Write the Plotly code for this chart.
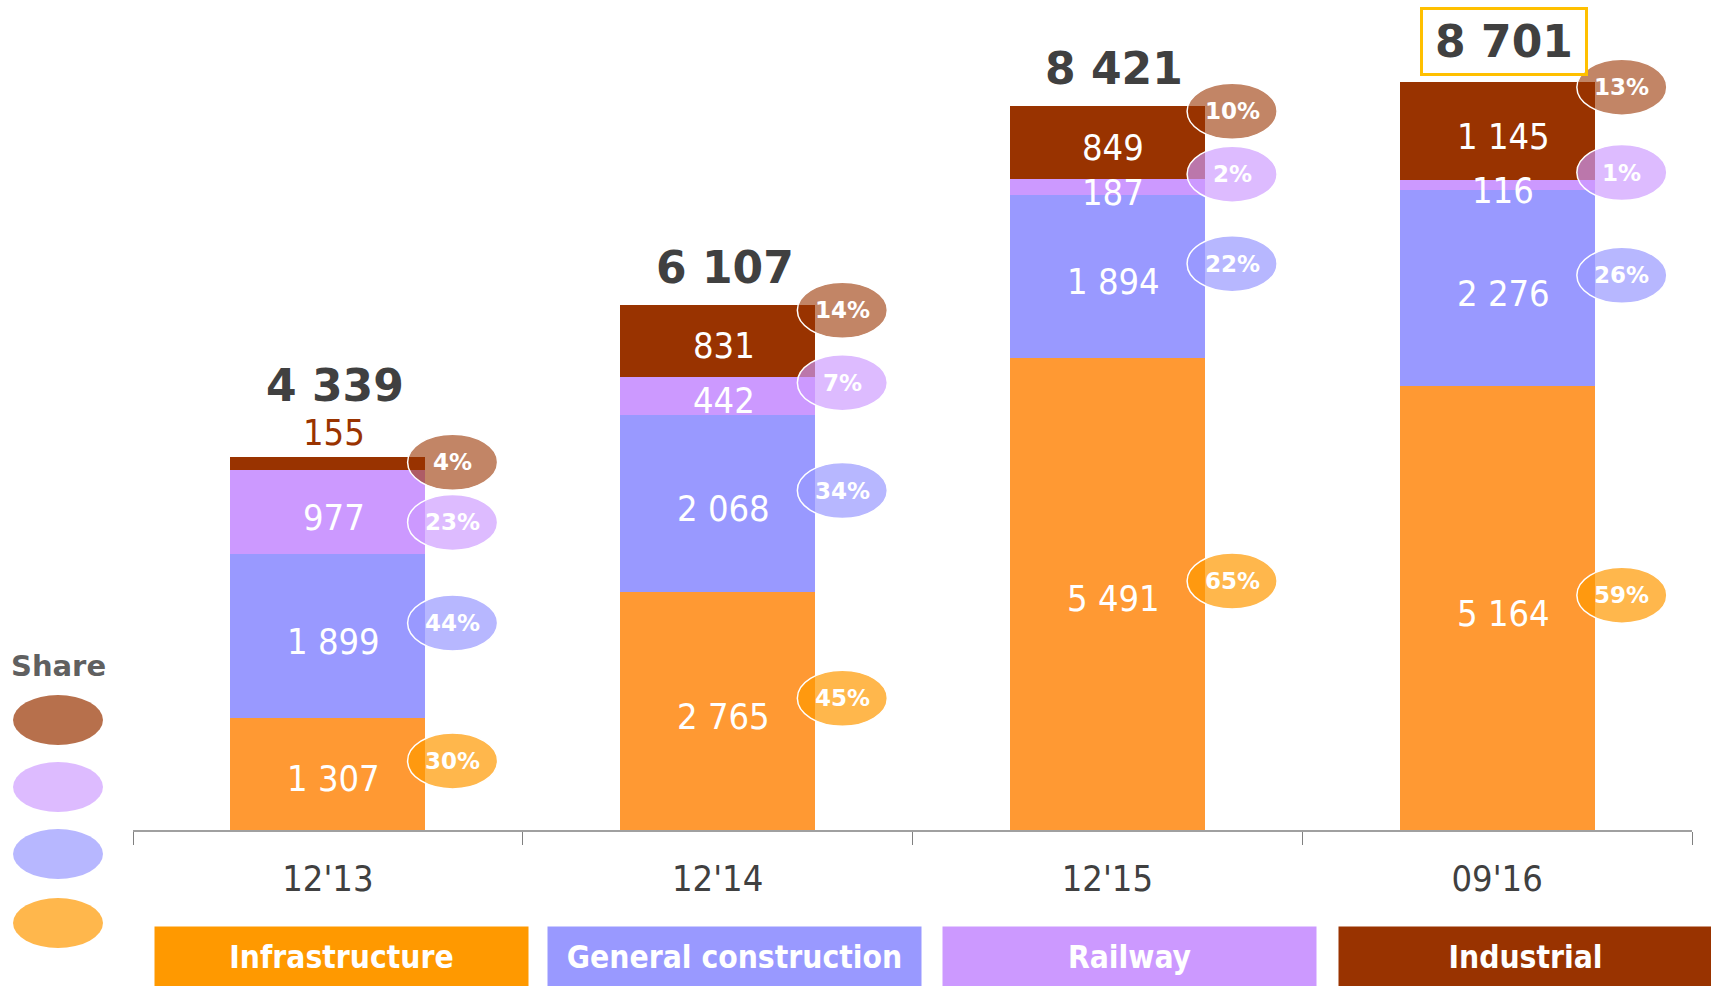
import plotly.graph_objects as go

# data
periods = ["12'13", "12'14", "12'15", "09'16"]
segments = ["Infrastructure", "General construction", "Railway", "Industrial"]
infrastructure = [1307, 2765, 5491, 5164]
general_construction = [1899, 2068, 1894, 2276]
railway = [977, 442, 187, 116]
industrial = [155, 831, 849, 1145]
totals = [4339, 6107, 8421, 8701]
share_infrastructure = [30, 45, 65, 59]
share_general = [44, 34, 22, 26]
share_railway = [23, 7, 2, 1]
share_industrial = [4, 14, 10, 13]

bar_colors = ["#FF9933", "#9999FF", "#CC99FF", "#993300"]
legend_colors = ["#FF9900", "#9999FF", "#CC99FF", "#993300"]
bubble_fill = ["rgba(255,153,0,0.7)", "rgba(153,153,255,0.7)",
               "rgba(204,153,255,0.67)", "rgba(153,51,0,0.6)"]
share_legend_fill = ["rgba(255,153,0,0.7)", "rgba(153,153,255,0.7)",
                     "rgba(204,153,255,0.67)", "rgba(153,51,0,0.7)"]

W, H = 1711, 986
ML, MR, MT, MB = 133, 19, 0, 156
PW, PH = W - ML - MR, H - MT - MB
YMAX = 9655

REG = "DejaVu Sans Condensed, DejaVu Sans, sans-serif"
BOLD = "DejaVu Sans, sans-serif"


def fmt(v):
    return f"{v:,}".replace(",", " ")


def px_x(px):
    return (px - ML) / PW


def px_y(py):
    return (H - MB - py) / PH


series = [infrastructure, general_construction, railway, industrial]
shares = [share_infrastructure, share_general, share_railway, share_industrial]

fig = go.Figure()
for name, vals, col in zip(segments, series, bar_colors):
    fig.add_trace(go.Bar(x=periods, y=vals, name=name, marker_color=col,
                         marker_line_width=0, width=0.5, showlegend=False,
                         hoverinfo="skip"))

# value labels in segments, share bubbles beside bars
for i, p in enumerate(periods):
    base = 0
    stack_top = sum(s[i] for s in series)
    bubble_y = [0] * 4
    for k in range(4):
        v = series[k][i]
        mid = base + v / 2
        if k == 3 and v < 300:
            fig.add_annotation(x=p, y=base + v, text=fmt(v), showarrow=False,
                               yanchor="bottom", yshift=2, xshift=6,
                               font=dict(family=REG, size=36, color="#993300"))
        else:
            fig.add_annotation(x=p, y=mid, text=fmt(v), showarrow=False,
                               xshift=6, yshift=-5,
                               font=dict(family=REG, size=36, color="white"))
        bubble_y[k] = mid + 150
        base += v
    # industrial bubble sits at bar top, others pushed down to avoid overlap
    bubble_y[3] = stack_top - 60
    for k in (2, 1, 0):
        bubble_y[k] = min(bubble_y[k], bubble_y[k + 1] - 700)
    for k in range(4):
        fig.add_shape(type="circle", xref="x", yref="y",
                      xsizemode="pixel", ysizemode="pixel",
                      xanchor=i + 0.32, yanchor=bubble_y[k],
                      x0=-45, x1=45, y0=-28, y1=28,
                      fillcolor=bubble_fill[k], line=dict(color="white", width=1.5))
        fig.add_annotation(x=i + 0.32, y=bubble_y[k], text=f"<b>{shares[k][i]}%</b>",
                           showarrow=False,
                           font=dict(family=BOLD, size=23, color="white"))
    # totals
    small_top = industrial[i] < 300
    boxed = i == len(periods) - 1
    fig.add_annotation(x=p, y=stack_top, text=f"<b>{fmt(totals[i])}</b>",
                       showarrow=False, yanchor="bottom",
                       yshift=44 if small_top else (6 if boxed else 10), xshift=7,
                       font=dict(family=BOLD, size=44, color="#404040"),
                       bordercolor="#FFC000" if boxed else "rgba(0,0,0,0)",
                       borderwidth=3 if boxed else 0, borderpad=6 if boxed else 2,
                       width=150 if boxed else None)

# "Share" key on the left
fig.add_annotation(xref="paper", yref="paper", x=px_x(58), y=px_y(666),
                   xanchor="center", yanchor="middle",
                   text="<b>Share</b>", showarrow=False,
                   font=dict(family=BOLD, size=29, color="#606060"))
for k, cy in zip([3, 2, 1, 0], [720, 787, 854, 923]):
    fig.add_shape(type="circle", xref="paper", yref="paper",
                  x0=px_x(58 - 45), x1=px_x(58 + 45), y0=px_y(cy + 25), y1=px_y(cy - 25),
                  fillcolor=share_legend_fill[k], line=dict(width=0))

# segment key boxes along the bottom
for name, col, cx in zip(segments, legend_colors, [341.5, 734.5, 1129.5, 1525]):
    fig.add_annotation(xref="paper", yref="paper", x=px_x(cx), y=px_y(956.5),
                       xanchor="center", yanchor="middle",
                       text=f"<b>{name}</b>", showarrow=False,
                       width=373, height=59, bgcolor=col, borderpad=0,
                       font=dict(family=REG, size=31.5, color="white"))

fig.update_layout(
    width=W, height=H, barmode="stack",
    margin=dict(l=ML, r=MR, t=MT, b=MB, pad=0),
    plot_bgcolor="white", paper_bgcolor="white",
    xaxis=dict(showline=True, linecolor="#A0A0A0", linewidth=1.5,
               ticks="outside", tickson="boundaries", ticklen=13, tickcolor="#808080",
               tickfont=dict(family=REG, size=36, color="#404040"),
               ticklabelstandoff=16, showgrid=False),
    yaxis=dict(range=[0, YMAX], visible=False, showgrid=False),
)

fig.write_html("out.html", config={"displayModeBar": False},
               post_script="document.body.style.margin='0';")
